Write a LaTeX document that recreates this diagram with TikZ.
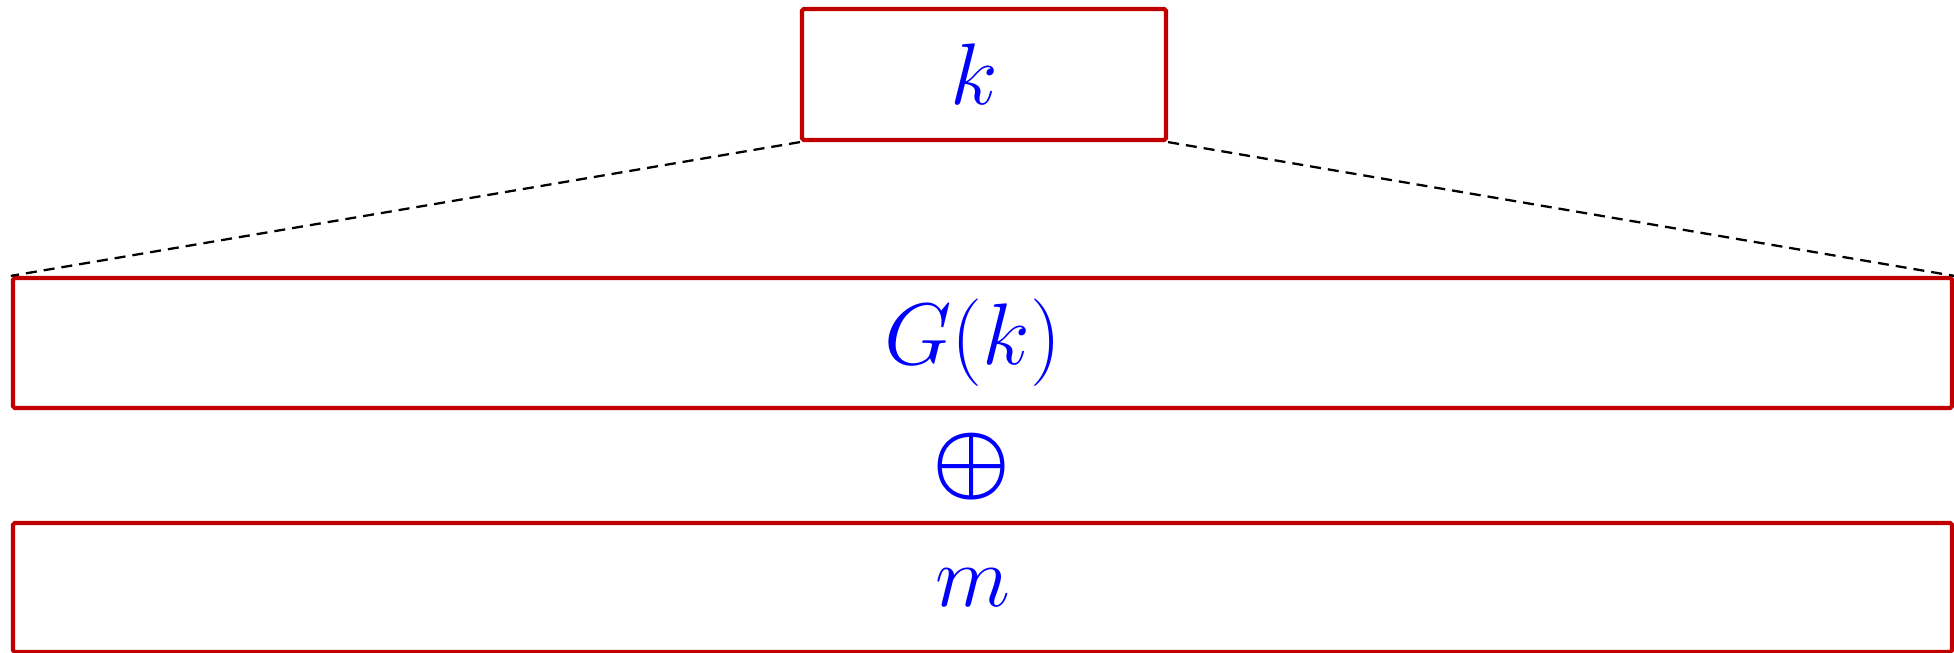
\documentclass[tikz,border=0pt]{standalone}
\usepackage{amsmath,amssymb}
\usepackage{tikz}
\usetikzlibrary{positioning, calc}
\definecolor{boxred}{HTML}{C00000}
\definecolor{txtblue}{HTML}{0000FF}

\tikzset{
  fieldbox/.style={draw=boxred, line width=1.2pt, rounded corners=0.5pt,
    text=txtblue, font=\fontsize{28}{34}\selectfont, inner sep=0pt},
  spread/.style={black, line width=0.65pt, dash pattern=on 0.11cm off 0.07cm}
}

\begin{document}
\begin{tikzpicture}[x=1cm,y=1cm]
  \useasboundingbox (0,0) rectangle (19.54,-6.53);

  \node[fieldbox, minimum width=3.64cm, minimum height=1.31cm] (key) at (9.84,-0.745) {$k$\hspace*{0.2cm}};
  \node[fieldbox, minimum width=19.39cm, minimum height=1.30cm] (gen) at (9.825,-3.43) {$G(k)$\hspace*{0.2cm}};
  \node[text=txtblue, font=\fontsize{37}{44}\selectfont, inner sep=0pt] (xor) at (9.72,-4.67) {$\boldsymbol{\oplus}$};
  \node[fieldbox, minimum width=19.39cm, minimum height=1.29cm] (msg) at (9.825,-5.875) {$m$\hspace*{0.2cm}};

  \draw[spread] (key.south west) -- (gen.north west);
  \draw[spread] (key.south east) -- (gen.north east);
\end{tikzpicture}
\end{document}
